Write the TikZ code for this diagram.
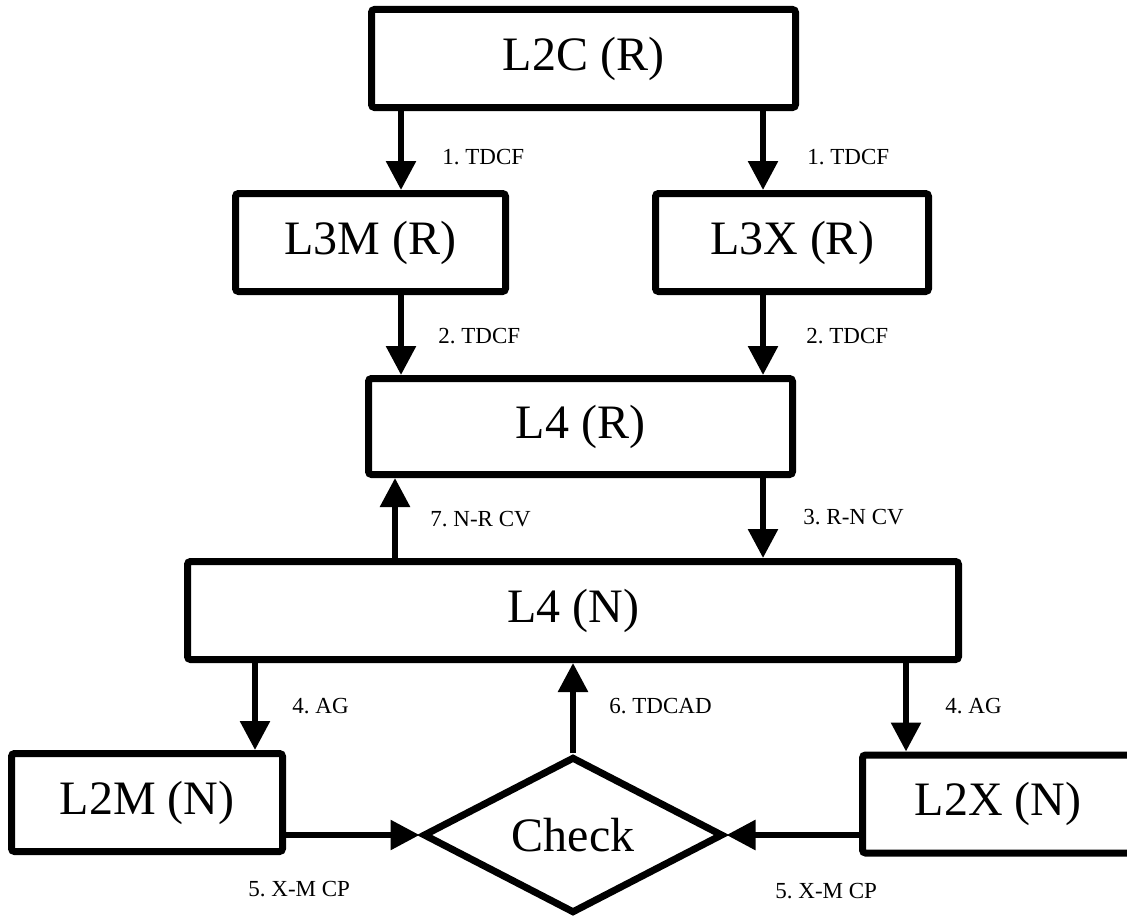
\documentclass[tikz,border=0pt]{standalone}
\usepackage{fontspec}
\setmainfont{Liberation Serif}
\usetikzlibrary{arrows.meta,shapes.geometric}
\frenchspacing

\begin{document}
\begin{tikzpicture}[x=0.5pt,y=-0.5pt,
  box/.style={draw,line width=3.5pt,rounded corners=1.5pt,minimum height=49pt,
    inner sep=0pt,font=\fontsize{24}{28}\selectfont},
  check/.style={draw,diamond,line width=3.5pt,minimum width=150pt,minimum height=74pt,
    inner sep=0pt,font=\fontsize{24}{28}\selectfont},
  flow/.style={line width=2.9pt,-{Triangle[length=14.5pt,width=14.5pt]}},
  lbl/.style={anchor=west,inner sep=0pt,font=\fontsize{11.5}{13}\selectfont}]
  \useasboundingbox (0,0) rectangle (1127,915);
  % levels
  \node[box,minimum width=212pt] (l2c) at (583.5,58.5) {L2C (R)};
  \node[box,minimum width=135pt] (l3m) at (370.5,242.5) {L3M (R)};
  \node[box,minimum width=136.5pt] (l3x) at (792,242.5) {L3X (R)};
  \node[box,minimum width=212pt,minimum height=48pt] (l4r) at (580.5,426.5) {L4 (R)};
  \node[box,minimum width=385.5pt] (l4n) at (573,610.5) {L4 (N)};
  \node[box,minimum width=135.5pt] (l2m) at (147,802.5) {L2M (N)};
  \node[box,minimum width=135.5pt] (l2x) at (998,804) {L2X (N)};
  \node[check] (chk) at (573,835) {Check};
  % arrow columns
  \coordinate (xl) at (401,0);
  \coordinate (xr) at (763,0);
  \coordinate (xu) at (395,0);
  \coordinate (xml) at (255,0);
  \coordinate (xmr) at (906,0);
  \draw[flow] (xl |- l2c.south) -- (xl |- l3m.north);
  \draw[flow] (xr |- l2c.south) -- (xr |- l3x.north);
  \draw[flow] (xl |- l3m.south) -- (xl |- l4r.north);
  \draw[flow] (xr |- l3x.south) -- (xr |- l4r.north);
  \draw[flow] (xr |- l4r.south) -- (xr |- l4n.north);
  \draw[flow] (xu |- l4n.north) -- (xu |- l4r.south);
  \draw[flow] (xml |- l4n.south) -- (xml |- l2m.north);
  \draw[flow] (xmr |- l4n.south) -- (xmr |- l2x.north);
  \draw[flow] (chk.north) -- (chk.north |- l4n.south);
  \draw[flow] (l2m.east |- chk.west) -- (chk.west);
  \draw[flow] (l2x.west |- chk.east) -- (chk.east);
  % labels
  \node[lbl] (t1l) at (442,157) {1. TDCF};
  \node[lbl] (t1r) at (807,157) {1. TDCF};
  \node[lbl] (t2l) at (438,336) {2. TDCF};
  \node[lbl] (t2r) at (806,336) {2. TDCF};
  \node[lbl] (t7) at (430,519) {7. N-R CV};
  \node[lbl] (t3) at (803,517) {3. R-N CV};
  \node[lbl] (t4l) at (292,706) {4. AG};
  \node[lbl] (t4r) at (945,706) {4. AG};
  \node[lbl] (t6) at (609,706) {6. TDCAD};
  \node[lbl] (t5l) at (248,889) {5. X-M CP};
  \node[lbl] (t5r) at (775,891) {5. X-M CP};
\end{tikzpicture}
\end{document}
